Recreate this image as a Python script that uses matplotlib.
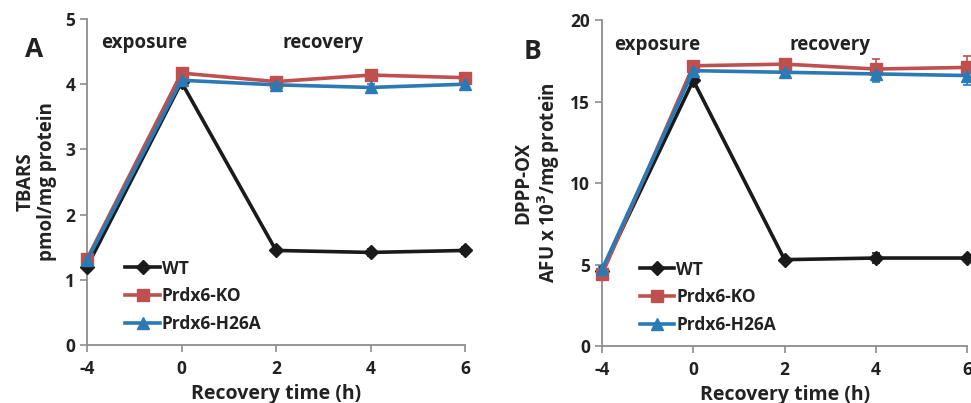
import numpy as np
import matplotlib.pyplot as plt
from matplotlib.lines import Line2D

plt.rcParams['font.family'] = ['Open Sans', 'DejaVu Sans']
plt.rcParams['font.weight'] = 'bold'
plt.rcParams['axes.labelweight'] = 'bold'

times = ['-4', '0', '2', '4', '6']
names = ['WT', 'Prdx6-KO', 'Prdx6-H26A']
colors = ['#1a1a1a', '#c0504d', '#2a7ab5']
markers = ['D', 's', '^']

# panel A: TBARS
tbars_wt = [1.20, 4.03, 1.45, 1.42, 1.45]
tbars_ko = [1.32, 4.17, 4.04, 4.14, 4.10]
tbars_h26a = [1.30, 4.06, 3.99, 3.95, 4.00]
tbars_wt_err = [0.04, 0.03, 0.03, 0.06, 0.05]
tbars_ko_err = [0.03, 0.03, 0.04, 0.03, 0.03]
tbars_h26a_err = [0.03, 0.03, 0.05, 0.05, 0.03]

# panel B: DPPP-OX
dppp_wt = [4.6, 16.3, 5.3, 5.4, 5.4]
dppp_ko = [4.4, 17.2, 17.3, 17.0, 17.1]
dppp_h26a = [4.7, 16.9, 16.8, 16.7, 16.6]
dppp_wt_err = [0.15, 0.15, 0.15, 0.3, 0.15]
dppp_ko_err = [0.2, 0.2, 0.2, 0.6, 0.7]
dppp_h26a_err = [0.2, 0.2, 0.2, 0.5, 0.6]

fig = plt.figure(figsize=(9.71, 4.03), dpi=100)
axA = fig.add_axes([0.0896, 0.1439, 0.3893, 0.809])
axB = fig.add_axes([0.620, 0.1414, 0.376, 0.8086])

x = np.arange(len(times))
gray = '#8c8c8c'
dark = '#222222'


def panel(ax, series, errs, ymax, ystep, ylabel, letter, letter_x, text_y):
    handles = []
    for y, e, name, c, m in zip(series, errs, names, colors, markers):
        ms = 7 if m == 'D' else 8.5
        ax.errorbar(x, y, yerr=e, color=c, marker=m, ms=ms, lw=2.6,
                    elinewidth=1.2, capsize=3, capthick=1.2,
                    clip_on=False, zorder=3)
        handles.append(Line2D([], [], color=c, marker=m, ms=ms, lw=2.6, label=name))
    ax.set_xlim(0, 4)
    ax.set_ylim(0, ymax)
    ax.set_xticks(x)
    ax.set_xticklabels(times)
    ax.set_yticks(np.arange(0, ymax + 0.1, ystep))
    for s in ['top', 'right']:
        ax.spines[s].set_visible(False)
    for s in ['left', 'bottom']:
        ax.spines[s].set_color(gray)
        ax.spines[s].set_linewidth(1.3)
    ax.tick_params(colors=gray, labelcolor=dark, labelsize=12.5,
                   length=5, width=1.2)
    ax.tick_params(axis='x', pad=6)
    ax.set_xlabel('Recovery time (h)', fontsize=14, color=dark, labelpad=4)
    ax.set_ylabel(ylabel, fontsize=13.5, color=dark, linespacing=1.1, labelpad=6)
    ax.text(0.6, text_y, 'exposure', ha='center', va='center', fontsize=13.5, color=dark)
    ax.text(2.5, text_y, 'recovery', ha='center', va='center', fontsize=13.5, color=dark)
    ax.text(letter_x, 0.905, letter, transform=ax.transAxes, ha='center', va='center',
            fontsize=19, color=dark)
    leg = ax.legend(handles=handles, loc='lower left', bbox_to_anchor=(0.06, -0.01),
                    frameon=False, handlelength=2.0, handletextpad=0.1,
                    labelspacing=0.55, prop={'size': 12.5, 'weight': 'bold'})
    for t in leg.get_texts():
        t.set_color(dark)


panel(axA, [tbars_wt, tbars_ko, tbars_h26a],
      [tbars_wt_err, tbars_ko_err, tbars_h26a_err],
      5, 1, 'TBARS\npmol/mg protein', 'A', -0.14, 4.63)
panel(axB, [dppp_wt, dppp_ko, dppp_h26a],
      [dppp_wt_err, dppp_ko_err, dppp_h26a_err],
      20, 5, 'DPPP-OX\nAFU x 10$^{\\mathbf{3}}$/mg protein', 'B', -0.19, 18.5)

fig.savefig('out.png', dpi=100)
